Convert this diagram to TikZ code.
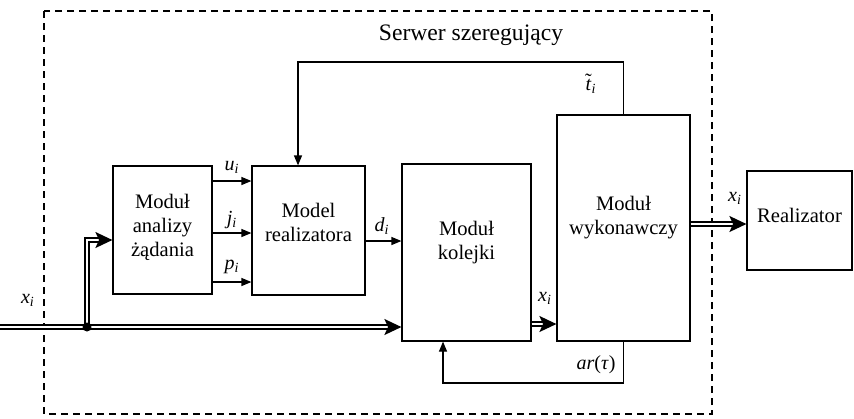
\documentclass[tikz,border=0pt]{standalone}
\usepackage{fontspec}
\setmainfont{Liberation Serif}
\usetikzlibrary{arrows.meta,calc}
\newcommand\sv[2]{\textit{#1}\textsubscript{\textit{#2}}}
\newcommand\tildet{\ooalign{\textit{t}\cr\hidewidth\raisebox{0.3ex}{\char"02DC}\hidewidth\cr}}
\begin{document}
\begin{tikzpicture}[x=0.5pt,y=-0.5pt,
  box/.style={draw, line width=0.6pt, inner sep=0pt},
  boxtext/.style={align=center, font=\fontsize{10.3}{12}\selectfont},
  arr/.style={line width=0.6pt, -{Triangle[length=5pt,width=4pt]}},
  dbl/.style={double, double distance=1.2pt, line width=0.7pt, -{Stealth[length=8.5pt,width=8pt,inset=1.8pt]}},
  lbl/.style={font=\fontsize{10}{12}\selectfont, inner sep=0pt},
  frame/.style={line width=1pt, dash pattern=on 3.5pt off 2.5pt},
  jdot/.style={circle, fill, inner sep=0pt, minimum size=4.5pt}]
\useasboundingbox (0,0) rectangle (854,418);
% frame
\draw[frame] (44,11) rectangle (712,414);
\node[font=\fontsize{11.8}{14}\selectfont] (title) at (471,35) {Serwer szeregujący};
% boxes
\node[box, minimum width=49.5pt, minimum height=64pt,
  label={[boxtext, yshift=1.5pt]center:Moduł\\analizy\\żądania}] (an) at (162.5,230) {};
\node[box, minimum width=56.5pt, minimum height=64.5pt,
  label={[boxtext, yshift=4.25pt]center:Model\\realizatora}] (mr) at (308.5,230.5) {};
\node[box, minimum width=64.5pt, minimum height=88.5pt,
  label={[boxtext, yshift=4.75pt]center:Moduł\\kolejki}] (mk) at (466.5,252.5) {};
\node[box, minimum width=66.5pt, minimum height=113pt,
  label={[boxtext, yshift=5pt]center:Moduł\\wykonawczy}] (mw) at (623.5,228) {};
\node[box, minimum width=52.5pt, minimum height=49.5pt,
  label={[boxtext, yshift=2.75pt]center:Realizator}] (re) at (799.5,220.5) {};
% input
\coordinate (in) at (0,327);
\coordinate (jc) at (87,327);
\draw[dbl] (in) -- (mk.west |- in);
\draw[dbl] (jc) |- (an.west |- 0,240);
\node[jdot] (jn) at (jc) {};
% analysis outputs
\draw[arr] (an.east |- 0,181) -- (mr.west |- 0,181);
\draw[arr] (an.east |- 0,233) -- (mr.west |- 0,233);
\draw[arr] (an.east |- 0,282) -- (mr.west |- 0,282);
\draw[arr] (mr.east |- 0,241) -- (mk.west |- 0,241);
\draw[dbl] (mk.east |- 0,324) -- (mw.west |- 0,324);
\draw[dbl] (mw.east |- 0,224) -- (re.west |- 0,224);
% feedback loops
\draw[arr] (mw.north) -- (mw.north |- 0,62) -| ([xshift=-5.25pt]mr.north);
\draw[arr] (mw.south) -- (mw.south |- 0,383) -| ([xshift=-11.75pt]mk.south);
% labels
\node[lbl] (lx1) at (28,300) {\sv{x}{i}};
\node[lbl] (lu) at (232,167) {\sv{u}{i}};
\node[lbl] (lj) at (232,220) {\sv{j}{i}};
\node[lbl] (lp) at (232,267) {\sv{p}{i}};
\node[lbl] (ld) at (382,226) {\sv{d}{i}};
\node[lbl] (lx2) at (545,298) {\sv{x}{i}};
\node[lbl] (lt) at (591,86) {\tildet\textsubscript{\textit{i}}};
\node[lbl] (lar) at (596,365) {\textit{ar}(\textit{τ})};
\node[lbl] (lx3) at (735,198) {\sv{x}{i}};
\end{tikzpicture}
\end{document}
